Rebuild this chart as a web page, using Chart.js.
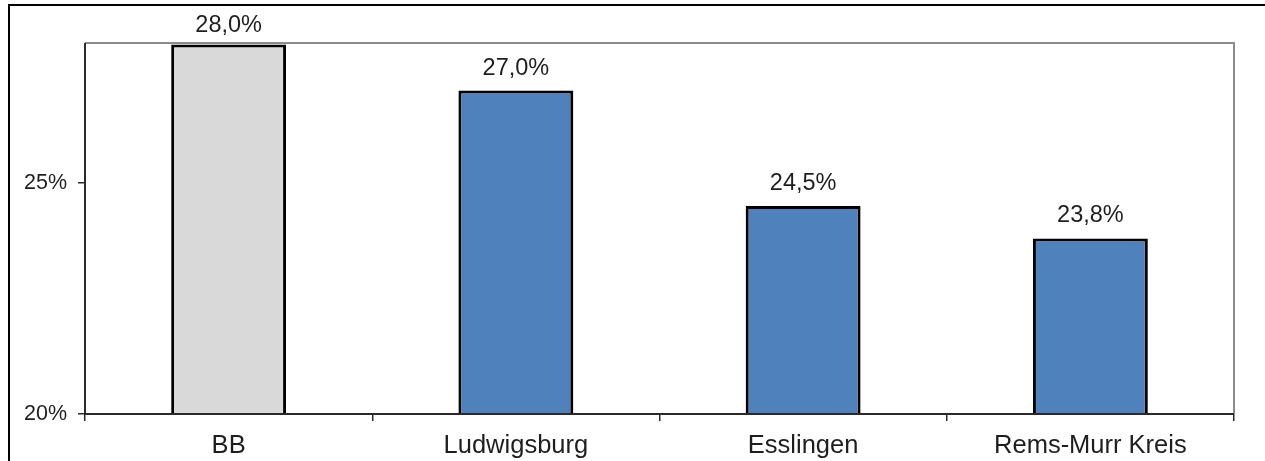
<!DOCTYPE html>
<html>
<head>
<meta charset="utf-8">
<script src="https://cdn.jsdelivr.net/npm/chart.js@4/dist/chart.umd.min.js"></script>
<style>
  html, body { margin: 0; padding: 0; background: #ffffff; }
  #wrap { position: relative; width: 1265px; height: 461px; }
</style>
</head>
<body>
<div id="wrap"><canvas id="c" width="1265" height="461"></canvas></div>
<script>
// Categories and shares (percent)
const categories = ['BB', 'Ludwigsburg', 'Esslingen', 'Rems-Murr Kreis'];
const shares = [28.0, 27.0, 24.5, 23.8];
const barColors = ['#D9D9D9', '#4F81BD', '#4F81BD', '#4F81BD'];
const yTickValues = [20, 25];
const yMin = 20;
const yMax = 28.03;

const FONT = "'Liberation Sans', Arial, sans-serif";
const TEXT = '#1e1e1e';

const fmtPct = v => v.toFixed(1).replace('.', ',') + '%';

// Outer frame line and plot-area box
const framePlugin = {
  id: 'frame',
  beforeDraw(chart) {
    const ctx = chart.ctx;
    ctx.save();
    ctx.fillStyle = '#ffffff';
    ctx.fillRect(0, 0, chart.width, chart.height);
    ctx.strokeStyle = '#000000';
    ctx.lineWidth = 2;
    ctx.beginPath();
    ctx.moveTo(chart.width, 5);
    ctx.lineTo(9, 5);
    ctx.lineTo(9, chart.height);
    ctx.stroke();
    ctx.restore();
  },
  afterDatasetsDraw(chart) {
    const { ctx, chartArea: a } = chart;
    ctx.save();
    ctx.strokeStyle = '#8c8c8c';
    ctx.lineWidth = 2;
    ctx.beginPath();
    ctx.moveTo(a.left, a.top);
    ctx.lineTo(a.right, a.top);
    ctx.lineTo(a.right, a.bottom);
    ctx.stroke();
    ctx.strokeStyle = '#2a2a2a';
    ctx.lineWidth = 2;
    ctx.beginPath();
    ctx.moveTo(a.left, a.top);
    ctx.lineTo(a.left, a.bottom);
    ctx.lineTo(a.right, a.bottom);
    ctx.stroke();
    ctx.restore();
  }
};

// Value labels above each bar
const valueLabels = {
  id: 'valueLabels',
  afterDatasetsDraw(chart) {
    const ctx = chart.ctx;
    const meta = chart.getDatasetMeta(0);
    ctx.save();
    ctx.font = '23.5px ' + FONT;
    ctx.fillStyle = TEXT;
    ctx.textAlign = 'center';
    ctx.textBaseline = 'alphabetic';
    meta.data.forEach((bar, i) => {
      const baseline = Math.max(bar.y - 16, 32);
      ctx.fillText(fmtPct(shares[i]), bar.x, baseline);
    });
    ctx.restore();
  }
};

new Chart(document.getElementById('c'), {
  type: 'bar',
  data: {
    labels: categories,
    datasets: [{
      data: shares,
      backgroundColor: barColors,
      borderColor: '#000000',
      borderWidth: 3,
      borderSkipped: false,
      barPercentage: 0.4,
      categoryPercentage: 1.0
    }]
  },
  options: {
    responsive: false,
    animation: false,
    devicePixelRatio: 1,
    layout: { padding: { left: 0, top: 43, right: 31, bottom: 0 } },
    plugins: {
      legend: { display: false },
      tooltip: { enabled: false }
    },
    scales: {
      x: {
        offset: true,
        border: { display: false },
        grid: {
          offset: true,
          drawOnChartArea: false,
          drawTicks: true,
          tickLength: 7,
          color: '#2a2a2a',
          lineWidth: 1.5
        },
        ticks: {
          color: TEXT,
          font: { family: FONT, size: 25.5 },
          padding: 10,
          maxRotation: 0,
          autoSkip: false
        },
        afterFit(scale) { scale.height = 47; }
      },
      y: {
        min: yMin,
        max: yMax,
        border: { display: false },
        grid: {
          drawOnChartArea: false,
          drawTicks: true,
          tickLength: 7,
          color: '#2a2a2a',
          lineWidth: 1.5
        },
        ticks: {
          color: TEXT,
          font: { family: FONT, size: 21.5 },
          padding: 11,
          callback: v => v + '%'
        },
        afterBuildTicks(scale) {
          scale.ticks = yTickValues.map(v => ({ value: v }));
        },
        afterFit(scale) { scale.width = 85; }
      }
    }
  },
  plugins: [framePlugin, valueLabels]
});
</script>
</body>
</html>
